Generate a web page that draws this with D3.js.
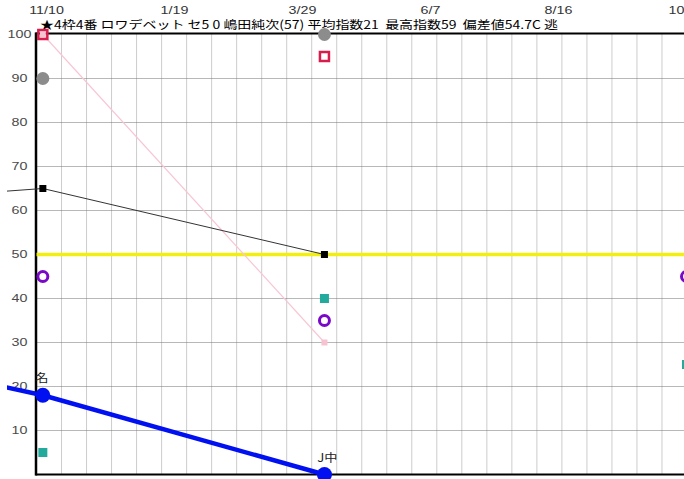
<!DOCTYPE html>
<html><head><meta charset="utf-8">
<script src="https://cdn.jsdelivr.net/npm/d3@7"></script>
<style>
html,body{margin:0;padding:0;background:#fff;overflow:hidden;}
svg{display:block;}
</style></head>
<body><svg id="c" width="684" height="479"></svg>
<script>
// ---- data ----
const headerText = "★4枠4番 ロワデベット セ5 0 嶋田純次(57) 平均指数21  最高指数59  偏差値54.7C 逃";
const tickDates = ["2023-11-10","2024-01-19","2024-03-29","2024-06-07","2024-08-16","2024-10-25"];
const tickLabels = ["11/10","1/19","3/29","6/7","8/16","10/25"];
const yTicks = [10,20,30,40,50,60,70,80,90,100];
const raceDates = ["2023-10-06","2023-11-08","2024-04-10","2024-10-25"];
const blueValues   = [21, 18, 0, null];
const blueLabels   = [null, "名", "J中", null];
const blackValues  = [64, 65, 50, null];
const pinkValues   = [null, 100, 30, null];
const redValues    = [null, 100, 95, null];
const grayValues   = [null, 90, 100, null];
const purpleValues = [null, 45, 35, 45];
const tealValues   = [null, 5, 40, 25];
const refValue = 50;
const gridColumns = 26;

(function () {
// ---- scales ----
const parse = d3.timeParse("%Y-%m-%d");
const svg = d3.select("#c");
const W = 684, H = 479;
const pLeft = 36.5, pTop = 34.5, pBottom = 474.5;
const x = d3.scaleTime().domain([parse(tickDates[0]), parse(tickDates[2])]).range([46.5, 302.5]);
const y = d3.scaleLinear().domain([0, 100]).range([pBottom, pTop]);
const gx = d3.scaleLinear().domain([0, gridColumns]).range([pLeft, 687]);
const SX = 1.3; // horizontal stretch of the original rendering
const numFont = "'Liberation Sans', Arial, sans-serif";

svg.append("defs").append("clipPath").attr("id", "lineclip")
  .append("rect").attr("x", 7).attr("y", 0).attr("width", W).attr("height", H);

function stretched(g, tx, ty, text, opts) {
  return g.append("text")
    .attr("transform", `translate(${tx},${ty}) scale(${opts.sx || SX},1)`)
    .attr("text-anchor", opts.anchor || "middle")
    .attr("dominant-baseline", opts.baseline || "auto")
    .style("font-family", opts.font || numFont)
    .style("font-size", (opts.size || 11) + "px")
    .attr("fill", opts.fill || "#000")
    .text(text);
}

// ---- grid ----
const grid = svg.append("g");
grid.selectAll("line.v").data(d3.range(1, gridColumns + 1)).join("line")
  .attr("x1", d => gx(d)).attr("x2", d => gx(d))
  .attr("y1", pTop).attr("y2", pBottom)
  .attr("stroke", "#999").attr("stroke-width", 1).attr("stroke-dasharray", "1,1");
grid.selectAll("line.h").data(yTicks.filter(v => v < 100)).join("line")
  .attr("x1", pLeft).attr("x2", W)
  .attr("y1", d => y(d)).attr("y2", d => y(d))
  .attr("stroke", "#707070").attr("stroke-width", 1).attr("stroke-dasharray", "1,1");

// ---- y labels ----
const yl = svg.append("g");
yTicks.forEach(v => stretched(yl, 19.5, y(v), String(v), {baseline: "central", fill: "#4a4a4a", size: 11}));

// ---- date labels ----
const xl = svg.append("g");
tickDates.forEach((d, i) => stretched(xl, x(parse(d)), 13.5, tickLabels[i], {fill: "#333", size: 11}));

// ---- header ----
svg.append("text")
  .attr("x", 40).attr("y", 29)
  .attr("textLength", 518).attr("lengthAdjust", "spacingAndGlyphs")
  .style("white-space", "pre")
  .style("font-family", "'Noto Sans CJK JP', sans-serif").style("font-size", "11.5px")
  .attr("fill", "#000").text(headerText);

// ---- frame ----
svg.append("line").attr("x1", pLeft - 1).attr("x2", W).attr("y1", pTop - 1).attr("y2", pTop - 1).attr("stroke", "#000").attr("stroke-width", 2);
svg.append("line").attr("x1", pLeft - 1).attr("x2", W).attr("y1", pBottom).attr("y2", pBottom).attr("stroke", "#000").attr("stroke-width", 2);
svg.append("line").attr("x1", pLeft - 0.5).attr("x2", pLeft - 0.5).attr("y1", pTop - 2).attr("y2", pBottom + 1).attr("stroke", "#000").attr("stroke-width", 2.5);

// ---- reference line ----
svg.append("line").attr("x1", pLeft).attr("x2", W).attr("y1", y(refValue)).attr("y2", y(refValue))
  .attr("stroke", "#f2ee10").attr("stroke-width", 3.5);

const races = raceDates.map(parse);
function series(vals) { return races.map((d, i) => ({d, v: vals[i], i})).filter(p => p.v !== null); }
const line = d3.line().x(p => x(p.d)).y(p => y(p.v));
const lines = svg.append("g").attr("clip-path", "url(#lineclip)");

// pink line
lines.append("path").datum(series(pinkValues)).attr("d", line).attr("fill", "none").attr("stroke", "#f8c6d3").attr("stroke-width", 1.2);
lines.selectAll("rect.pink").data(series(pinkValues)).join("rect").attr("class", "pink")
  .attr("x", p => x(p.d) - 3).attr("y", p => y(p.v) - 3).attr("width", 6).attr("height", 6).attr("fill", "#f7c3d1");

// black line
lines.append("path").datum(series(blackValues)).attr("d", line).attr("fill", "none").attr("stroke", "#333").attr("stroke-width", 1);
lines.selectAll("rect.blk").data(series(blackValues)).join("rect").attr("class", "blk")
  .attr("x", p => x(p.d) - 3.5).attr("y", p => y(p.v) - 3.5).attr("width", 7).attr("height", 7).attr("fill", "#000");

// blue line
lines.append("path").datum(series(blueValues)).attr("d", line).attr("fill", "none").attr("stroke", "#0010f0").attr("stroke-width", 4.5);
lines.selectAll("circle.blue").data(series(blueValues)).join("circle").attr("class", "blue")
  .attr("cx", p => x(p.d)).attr("cy", p => y(p.v)).attr("r", 7.5).attr("fill", "#0010f0");
series(blueValues).forEach(p => {
  if (blueLabels[p.i]) stretched(svg, x(p.d) + (blueLabels[p.i].length > 1 ? 3 : -1), y(p.v) - 13, blueLabels[p.i],
    {font: "'Noto Sans CJK JP', sans-serif", size: 11.5, sx: 1.15, fill: "#222"});
});

// teal squares
svg.selectAll("rect.teal").data(series(tealValues)).join("rect").attr("class", "teal")
  .attr("x", p => x(p.d) - 4.5).attr("y", p => y(p.v) - 4.5).attr("width", 9).attr("height", 9).attr("fill", "#22aa9c");
// purple hollow circles
svg.selectAll("circle.pur").data(series(purpleValues)).join("circle").attr("class", "pur")
  .attr("cx", p => x(p.d)).attr("cy", p => y(p.v)).attr("r", 5).attr("fill", "none")
  .attr("stroke", "#7a08c8").attr("stroke-width", 3);
// red hollow squares
svg.selectAll("rect.red").data(series(redValues)).join("rect").attr("class", "red")
  .attr("x", p => x(p.d) - 4.5).attr("y", p => y(p.v) - 4.5).attr("width", 9).attr("height", 9).attr("fill", "none")
  .attr("stroke", "#d81c4c").attr("stroke-width", 2.5);
// gray circles
svg.selectAll("circle.gray").data(series(grayValues)).join("circle").attr("class", "gray")
  .attr("cx", p => x(p.d)).attr("cy", p => y(p.v)).attr("r", 6.5).attr("fill", "#8c8c8c");
})();
</script></body></html>
